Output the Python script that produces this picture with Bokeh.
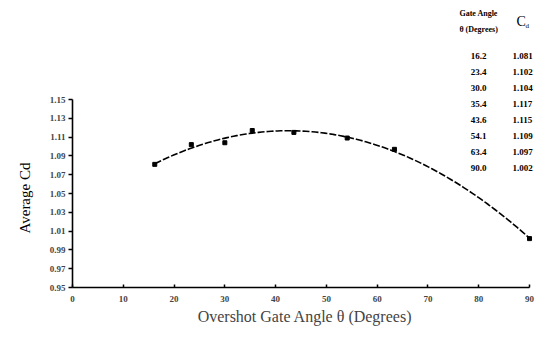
import numpy as np
from bokeh.plotting import figure
from bokeh.models import FixedTicker, PrintfTickFormatter, Range1d, Title
from bokeh.core.properties import value
from bokeh.embed import file_html
from bokeh.resources import INLINE

# ---- data ----
gate_angle = [16.2, 23.4, 30.0, 35.4, 43.6, 54.1, 63.4, 90.0]
avg_cd = [1.081, 1.102, 1.104, 1.117, 1.115, 1.109, 1.097, 1.002]
x_ticks = [0, 10, 20, 30, 40, 50, 60, 70, 80, 90]
y_ticks = [0.95, 0.97, 0.99, 1.01, 1.03, 1.05, 1.07, 1.09, 1.11, 1.13, 1.15]
table_head_1 = "Gate Angle"
table_head_2 = "θ (Degrees)"
x_title = "Overshot Gate Angle θ (Degrees)"
y_title = "Average Cd"

# ---- layout constants (pixels of the picture) ----
W, H = 537, 328
FRAME_L, FRAME_BOT = 71, 287
X90_PX, Y115_PX = 529, 99
PX_PER_DEG = (X90_PX - FRAME_L) / 90.0
PX_PER_UNIT = (FRAME_BOT - Y115_PX) / 0.20
x_end = (W - FRAME_L) / PX_PER_DEG
y_end = 0.95 + FRAME_BOT / PX_PER_UNIT


def px_x(xi):
    return (xi - FRAME_L) / PX_PER_DEG


def px_y(yi):
    return 0.95 + (FRAME_BOT - yi) / PX_PER_UNIT


SERIF = "Liberation Serif"

p = figure(width=W, height=H, output_backend="svg", toolbar_location=None,
           x_range=Range1d(0, x_end), y_range=Range1d(0.95, y_end),
           min_border_left=FRAME_L, min_border_right=0,
           min_border_top=0, min_border_bottom=H - FRAME_BOT)
p.outline_line_color = None
p.xgrid.visible = False
p.ygrid.visible = False
p.background_fill_color = "white"
p.border_fill_color = "white"

# axes
xa = p.xaxis[0]
xa.bounds = (0, 90)
xa.ticker = FixedTicker(ticks=x_ticks)
xa.minor_tick_line_color = None
xa.major_tick_in = 3
xa.major_tick_out = 0
xa.axis_line_width = 1.6
xa.major_tick_line_width = 1.5
xa.major_label_text_font = SERIF
xa.major_label_text_font_size = "9px"
xa.major_label_text_font_style = "bold"
xa.major_label_standoff = 8
xa.axis_label = x_title
xa.axis_label_text_font = SERIF
xa.axis_label_text_font_size = "16px"
xa.axis_label_text_font_style = "normal"
xa.axis_label_standoff = 3

ya = p.yaxis[0]
ya.bounds = (0.95, 1.15)
ya.ticker = FixedTicker(ticks=y_ticks)
ya.formatter = PrintfTickFormatter(format="%.2f")
ya.minor_tick_line_color = None
ya.major_tick_in = 0
ya.major_tick_out = 4
ya.axis_line_width = 1.6
ya.major_tick_line_width = 1.5
ya.major_label_text_font = SERIF
ya.major_label_text_font_size = "9px"
ya.major_label_text_font_style = "bold"
ya.major_label_standoff = 3

# y title placed lower than the frame centre, as in the reference
p.add_layout(Title(text=y_title, align="left", offset=54, standoff=28,
                   text_font=SERIF, text_font_size="15px",
                   text_font_style="normal", text_color="black"), "left")

# quadratic trend line fitted to the data
coef = np.polyfit(gate_angle, avg_cd, 2)
xs = np.linspace(min(gate_angle), max(gate_angle), 120)
p.line(xs, np.polyval(coef, xs), line_color="black", line_width=1.6,
       line_dash="7 2")
p.scatter(gate_angle, avg_cd, marker="square", size=4, color="black")

# table of values (upper right)
n = len(gate_angle)
row_y = [px_y(55 + 16.1 * i) for i in range(n)]
tfont = value(SERIF)
p.text(x=[px_x(478)] * n, y=row_y, text=[f"{a:.1f}" for a in gate_angle],
       text_font=tfont, text_font_size="9px", text_font_style="bold",
       text_align="center", text_baseline="middle", text_color="black")
p.text(x=[px_x(512)] * n, y=row_y, text=[f"{c:.3f}" for c in avg_cd],
       text_font=tfont, text_font_size="9px", text_font_style="bold",
       text_align="left", text_baseline="middle", text_color="black")
p.text(x=[px_x(478)] * 2, y=[px_y(13), px_y(29)],
       text=[table_head_1, table_head_2],
       text_font=tfont, text_font_size="8px", text_font_style="bold",
       text_align="center", text_baseline="middle", text_color="black")
p.text(x=[px_x(516)], y=[px_y(21)], text=["C"],
       text_font=tfont, text_font_size="14px",
       text_align="left", text_baseline="middle", text_color="black")
p.text(x=[px_x(525)], y=[px_y(25)], text=["d"],
       text_font=tfont, text_font_size="7px",
       text_align="left", text_baseline="middle", text_color="black")

open("out.html", "w").write(file_html(p, INLINE))
